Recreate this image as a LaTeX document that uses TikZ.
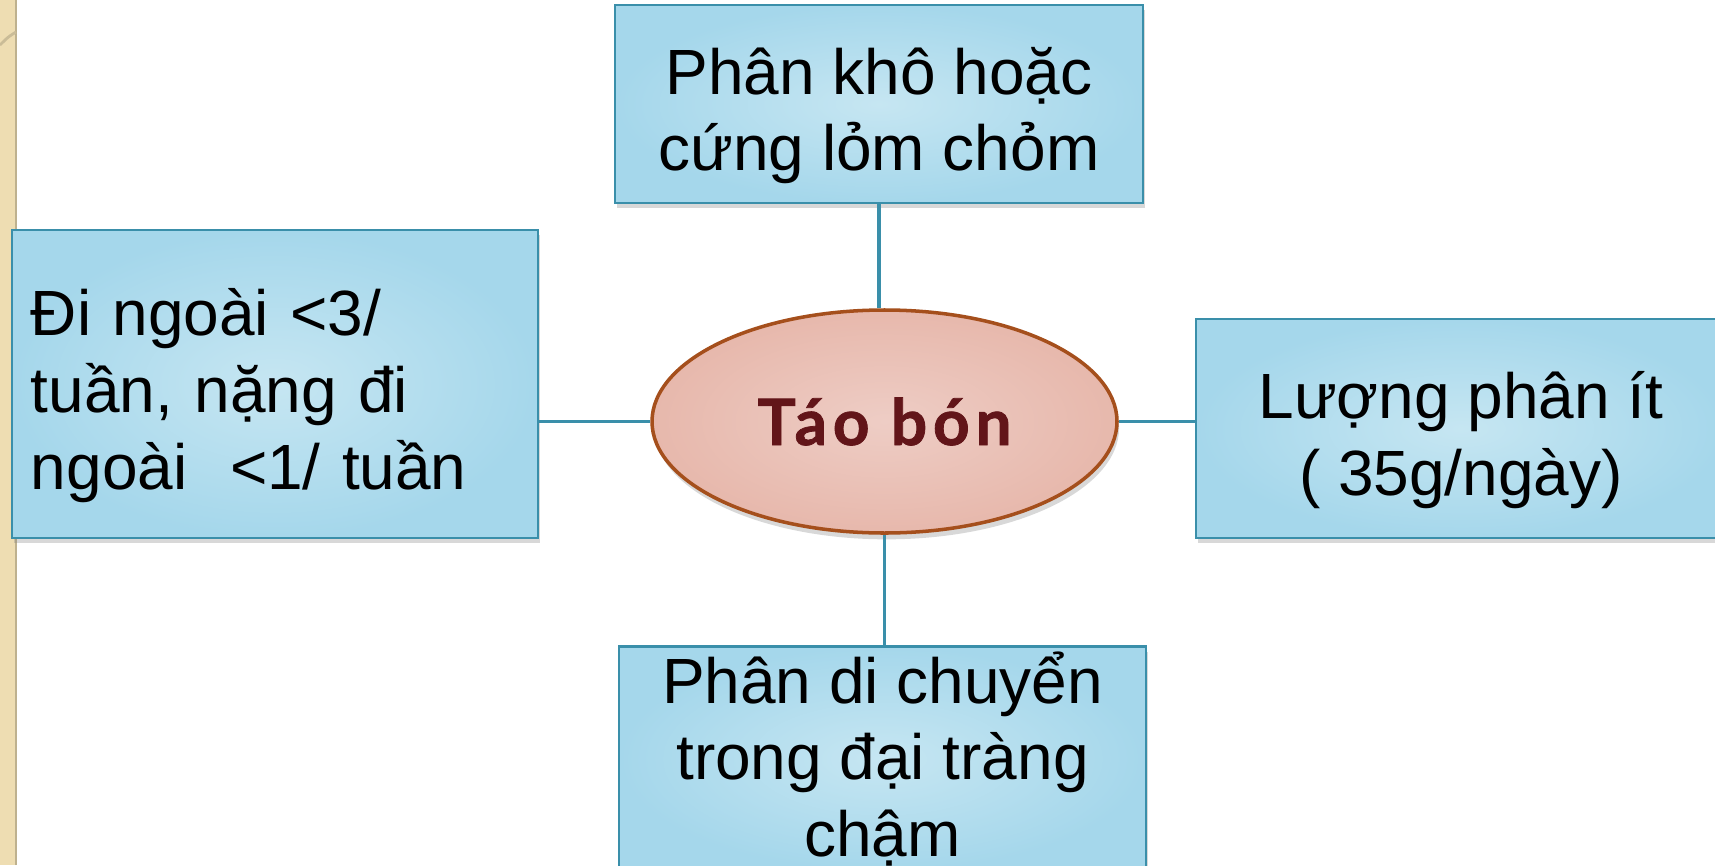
\documentclass[tikz,border=0pt]{standalone}
\usepackage{fontspec}
\setmainfont{Liberation Sans}
\newfontfamily\titlefont[LetterSpace=9, BoldFeatures={FakeBold=1.2}]{Lato}
\usetikzlibrary{shapes.geometric,shadows}
\definecolor{boxedge}{HTML}{3A8FAA}
\definecolor{boxin}{HTML}{C6E6F2}
\definecolor{boxout}{HTML}{A5D7EB}
\definecolor{ovalin}{HTML}{EECDC5}
\definecolor{ovalout}{HTML}{E7B8AC}
\definecolor{ovaledge}{HTML}{A54F1C}
\definecolor{titlered}{HTML}{621519}
\definecolor{stripbeige}{HTML}{EEDDB2}
\newcommand\headstrut{\rule{0pt}{0.75cm}}
\newcommand\tailstrut{\rule[-0.18cm]{0pt}{0pt}}

\begin{document}
\begin{tikzpicture}[
  symptom/.style={rectangle, draw=boxedge, line width=0.8pt,
    inner color=boxin, outer color=boxout,
    drop shadow={shadow xshift=0.6pt, shadow yshift=-1.5pt, opacity=0.3},
    font=\fontsize{18.2}{21.8}\selectfont, align=center,
    inner xsep=0.19cm, inner ysep=0.05cm},
  core/.style={ellipse, draw=ovaledge, line width=1pt,
    inner color=ovalin, outer color=ovalout,
    drop shadow={shadow xshift=0.6pt, shadow yshift=-1.8pt, opacity=0.3},
    font=\titlefont\bfseries\fontsize{18.2}{20}\selectfont,
    text=titlered, inner sep=0pt},
  link/.style={draw=boxedge, line width=0.9pt}
]
% Page and left strip
\clip (0,0) rectangle (17.15,8.65);
\fill[white] (0,0) rectangle (17.15,8.65);
\fill[stripbeige] (0,0) rectangle (0.16,8.65);
\draw[stripbeige!80!black, line width=0.4pt] (0.16,0) -- (0.16,8.65);
\draw[stripbeige!85!black, line width=0.8pt] (0,8.2) .. controls (0.08,8.28) .. (0.16,8.33);

% Four symptom boxes
\node[symptom, minimum width=5.28cm, minimum height=1.98cm] (dry) at (8.79,7.61)
  {\headstrut Phân khô hoặc\\cứng lỏm chỏm\tailstrut};
\node[symptom, minimum width=5.26cm, minimum height=3.08cm, align=left, text width=4.88cm] (freq) at (2.75,4.81)
  {\headstrut Đi ngoài <3/\\tuần, nặng đi\\ngoài \ <1/ tuần\tailstrut};
\node[symptom, minimum width=5.30cm, minimum height=2.19cm] (amount) at (14.61,4.365)
  {\headstrut Lượng phân ít\\( 35g/ngày)\tailstrut};
\node[symptom, minimum width=5.27cm, anchor=north] (slow) at (8.825,2.20)
  {Phân di chuyển\\trong đại tràng\\chậm};

% Centre
\node[core, minimum width=4.65cm, minimum height=2.23cm] (tao) at (8.845,4.435) {Táo bón};

% Links
\draw[link] (dry.south) -- (dry.south |- tao.north);
\draw[link] (tao.south) -- (tao.south |- slow.north);
\draw[link] (tao.west) -- (tao.west -| freq.east);
\draw[link] (tao.east) -- (tao.east -| amount.west);
\end{tikzpicture}
\end{document}
